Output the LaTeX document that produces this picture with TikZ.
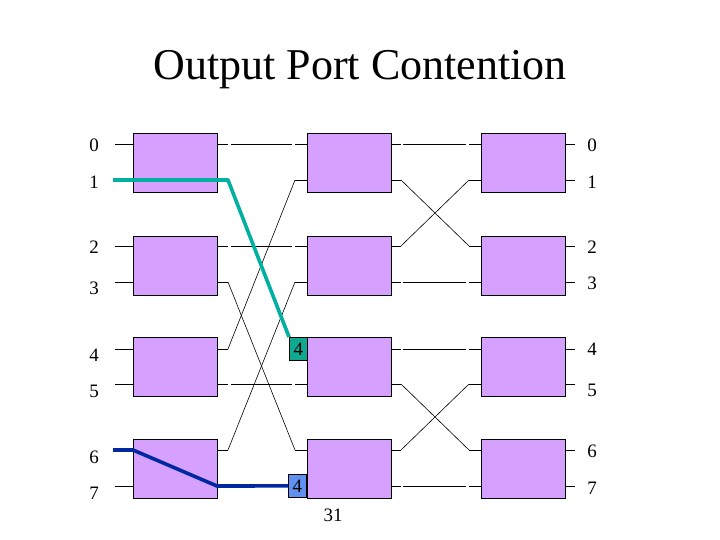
\documentclass[tikz,border=0pt]{standalone}
\usepackage{fontspec}
\setmainfont{Liberation Serif}
\definecolor{boxfill}{RGB}{214,160,255}
\definecolor{tealc}{RGB}{0,176,160}
\definecolor{tealbox}{RGB}{16,168,144}
\definecolor{navy}{RGB}{0,40,160}
\definecolor{bluebox}{RGB}{96,144,240}
\begin{document}
\begin{tikzpicture}[x=1pt,y=-1pt,
  swbox/.style={draw=black, line width=0.8pt, fill=boxfill, minimum width=84pt, minimum height=59pt, inner sep=0pt, anchor=north west},
  wire/.style={line width=0.6pt, black},
  lbl/.style={font=\fontsize{19}{19}\selectfont, inner sep=0pt},
  tag/.style={draw=black, line width=0.8pt, minimum width=18pt, minimum height=23pt, inner sep=0pt, anchor=north west, font=\fontsize{19}{19}\selectfont},
  hot/.style={line width=3.6pt, line join=round}]
\useasboundingbox (0,0) rectangle (720,540);
% title
\node[font=\fontsize{44}{44}\selectfont, anchor=base, inner sep=0pt] (title) at (360,80) {Output Port Contention};
% port coordinates
\foreach \p/\y in {0/144,1/180,2/246,3/282,4/349,5/384,6/450,7/486} {
  \coordinate (i\p) at (115,\y);
  \coordinate (a\p) at (133,\y);
  \coordinate (b\p) at (217,\y);
  \coordinate (c\p) at (228,\y);
  \coordinate (cs\p) at (231,\y);
  \coordinate (ds\p) at (292,\y);
  \coordinate (d\p) at (295,\y);
  \coordinate (e\p) at (307,\y);
  \coordinate (f\p) at (390,\y);
  \coordinate (g\p) at (401,\y);
  \coordinate (gs\p) at (403,\y);
  \coordinate (hs\p) at (466,\y);
  \coordinate (h\p) at (469,\y);
  \coordinate (k\p) at (481,\y);
  \coordinate (l\p) at (564,\y);
  \coordinate (m\p) at (575,\y);
  \draw[wire] (i\p) -- (a\p);
  \draw[wire] (b\p) -- (c\p);
  \draw[wire] (d\p) -- (e\p);
  \draw[wire] (f\p) -- (g\p);
  \draw[wire] (h\p) -- (k\p);
  \draw[wire] (l\p) -- (m\p);
}
% stage 1 -> 2 wiring
\foreach \p in {0,2,5,7} { \draw[wire] (cs\p) -- (ds\p); }
\foreach \p/\q in {1/4,3/6,4/1,6/3} { \draw[wire] (c\p) -- (d\q); }
% stage 2 -> 3 wiring
\foreach \p in {0,3,4,7} { \draw[wire] (gs\p) -- (hs\p); }
\foreach \p/\q in {1/2,2/1,5/6,6/5} { \draw[wire] (g\p) -- (h\q); }
% switch boxes
\foreach \s/\x in {1/133,2/307,3/481} {
  \foreach \r/\y in {0/133,1/236,2/337,3/439} {
    \node[swbox] (sw\s\r) at (\x,\y) {};
  }
}
% tags
\node[tag, fill=tealbox] (t4) at (289,337) {4};
\node[tag, fill=bluebox] (u4) at (288,474) {4};
% highlighted paths
\draw[hot, tealc] (113,180) -- (c1) -- (t4.north west);
\draw[hot, navy] (113,450) -- (a6) -- (b7) -- (u4.west);
% labels
\foreach \p/\y in {0/145,1/182,2/247,3/288,4/355,5/391,6/457,7/493} {
  \node[lbl] (L\p) at (94,\y) {\p};
}
\foreach \p/\y in {0/145,1/182,2/247,3/283,4/349,5/390,6/451,7/488} {
  \node[lbl] (R\p) at (592,\y) {\p};
}
\node[lbl] (pg) at (333,515) {31};
\end{tikzpicture}
\end{document}
